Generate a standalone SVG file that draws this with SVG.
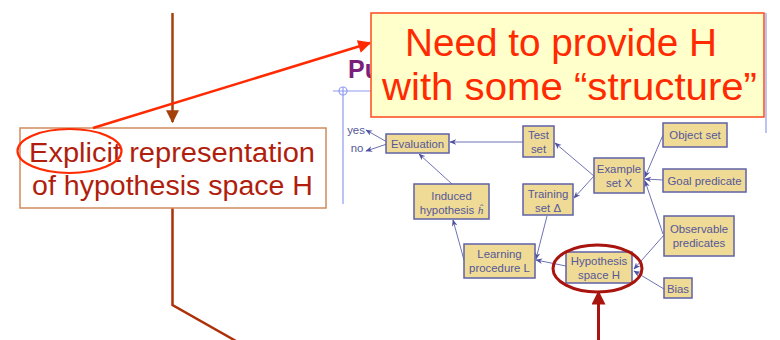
<svg xmlns="http://www.w3.org/2000/svg" width="780" height="340" viewBox="0 0 780 340">
  <style>
    .box { fill: #efdb95; stroke: #5f62a6; stroke-width: 1.5; }
    .lbl { font-family: "Liberation Sans", Arial, sans-serif; font-size: 11.4px; fill: #55579a; text-anchor: middle; }
    .edge { stroke: #6f72b4; stroke-width: 1; fill: none; marker-end: url(#sm); }
    .slide { stroke: #8f9cf0; stroke-width: 1.2; fill: none; }
  </style>
  <defs>
    <marker id="sm" viewBox="0 0 10 10" refX="9" refY="5" markerWidth="7" markerHeight="7" markerUnits="userSpaceOnUse" orient="auto">
      <path d="M0,1 L10,5 L0,9 L3,5 Z" fill="#4f52a0"/>
    </marker>
    <marker id="redhead" viewBox="0 0 10 10" refX="9" refY="5" markerWidth="16" markerHeight="13" markerUnits="userSpaceOnUse" orient="auto">
      <path d="M0,0 L10,5 L0,10 Z" fill="#ff2a00"/>
    </marker>
    <marker id="brownhead" viewBox="0 0 10 10" refX="9" refY="5" markerWidth="14" markerHeight="13" markerUnits="userSpaceOnUse" orient="auto">
      <path d="M0,0 L10,5 L0,10 Z" fill="#a4400c"/>
    </marker>
    <marker id="darkhead" viewBox="0 0 10 10" refX="9" refY="5" markerWidth="16" markerHeight="14" markerUnits="userSpaceOnUse" orient="auto">
      <path d="M0,0 L10,5 L0,10 Z" fill="#a8140e"/>
    </marker>
  </defs>

  <rect width="780" height="340" fill="#ffffff"/>

  <!-- slide background: title fragment and guide lines -->
  <g id="slide-bg">
    <text x="348" y="78" font-family="Liberation Sans, Arial, sans-serif" font-size="25" font-weight="bold" fill="#7a1f7c">Pu</text>
    <line class="slide" x1="333" y1="91" x2="400" y2="91"/>
    <circle class="slide" cx="343" cy="91" r="4"/>
    <line class="slide" x1="343" y1="87" x2="343" y2="204"/>
    <line class="slide" x1="766" y1="13" x2="766" y2="133"/>
  </g>

  <!-- connectors -->
  <g id="connectors">
    <line class="edge" x1="387" y1="142" x2="366" y2="130"/>
    <line class="edge" x1="387" y1="144" x2="366" y2="151"/>
    <line class="edge" x1="523" y1="142" x2="450" y2="142"/>
    <line class="edge" x1="594" y1="176" x2="555" y2="143"/>
    <line class="edge" x1="594" y1="176" x2="574" y2="198"/>
    <line class="edge" x1="663" y1="135" x2="645" y2="177"/>
    <line class="edge" x1="663" y1="180" x2="645" y2="179"/>
    <line class="edge" x1="663" y1="234" x2="645" y2="181"/>
    <line class="edge" x1="664" y1="235" x2="634" y2="269"/>
    <line class="edge" x1="664" y1="289" x2="634" y2="271"/>
    <line class="edge" x1="566" y1="266" x2="536" y2="260"/>
    <line class="edge" x1="547" y1="216" x2="536" y2="259"/>
    <line class="edge" x1="464" y1="260" x2="453" y2="220"/>
    <line class="edge" x1="452" y1="184" x2="419" y2="154"/>
  </g>

  <!-- nodes of the learning diagram -->
  <g id="evaluation">
    <rect class="box" x="386" y="134" width="63" height="19"/>
    <text class="lbl" x="417.5" y="148">Evaluation</text>
  </g>
  <g id="yes-no">
    <text class="lbl" x="356" y="134">yes</text>
    <text class="lbl" x="357" y="152">no</text>
  </g>
  <g id="test-set">
    <rect class="box" x="523" y="126" width="31" height="31"/>
    <text class="lbl" x="538.5" y="139">Test</text>
    <text class="lbl" x="538.5" y="153">set</text>
  </g>
  <g id="example-set">
    <rect class="box" x="594" y="158" width="50" height="35"/>
    <text class="lbl" x="619" y="173">Example</text>
    <text class="lbl" x="619" y="187">set X</text>
  </g>
  <g id="object-set">
    <rect class="box" x="663" y="123" width="64" height="24"/>
    <text class="lbl" x="695" y="139">Object set</text>
  </g>
  <g id="goal-predicate">
    <rect class="box" x="663" y="169" width="83" height="23"/>
    <text class="lbl" x="704.5" y="185">Goal predicate</text>
  </g>
  <g id="training-set">
    <rect class="box" x="523" y="184" width="50" height="31"/>
    <text class="lbl" x="548" y="198">Training</text>
    <text class="lbl" x="548" y="212">set Δ</text>
  </g>
  <g id="induced-hypothesis">
    <rect class="box" x="414" y="184" width="75" height="35"/>
    <text class="lbl" x="451.5" y="200">Induced</text>
    <text class="lbl" x="451.5" y="214">hypothesis <tspan font-family="Liberation Serif, serif" font-style="italic">ĥ</tspan></text>
  </g>
  <g id="learning-procedure">
    <rect class="box" x="464" y="244" width="71" height="34"/>
    <text class="lbl" x="499.5" y="258">Learning</text>
    <text class="lbl" x="499.5" y="272">procedure L</text>
  </g>
  <g id="hypothesis-space">
    <rect class="box" x="566" y="252" width="66" height="31"/>
    <text class="lbl" x="599" y="265">Hypothesis</text>
    <text class="lbl" x="599" y="279">space H</text>
  </g>
  <g id="observable-predicates">
    <rect class="box" x="664" y="216" width="70" height="40"/>
    <text class="lbl" x="699" y="233">Observable</text>
    <text class="lbl" x="699" y="247">predicates</text>
  </g>
  <g id="bias">
    <rect class="box" x="664" y="278" width="28" height="20"/>
    <text class="lbl" x="678" y="293">Bias</text>
  </g>

  <!-- annotation overlay -->
  <g id="explicit-note">
    <line x1="172.5" y1="13" x2="172.5" y2="122" stroke="#a4400c" stroke-width="2.5" marker-end="url(#brownhead)"/>
    <polyline points="172.5,208 172.5,305 236,341" fill="none" stroke="#ac3008" stroke-width="2.5"/>
    <rect x="20" y="128" width="306" height="80" fill="#ffffff" stroke="#d08a5c" stroke-width="1.5"/>
    <text x="29" y="162" font-family="Liberation Sans, Arial, sans-serif" font-size="27" fill="#b01e0e" textLength="286" lengthAdjust="spacingAndGlyphs">Explicit representation</text>
    <text x="32" y="195" font-family="Liberation Sans, Arial, sans-serif" font-size="27" fill="#b01e0e" textLength="281" lengthAdjust="spacingAndGlyphs">of hypothesis space H</text>
    <ellipse cx="69.5" cy="151" rx="52" ry="22" fill="none" stroke="#ff2a00" stroke-width="2.2"/>
  </g>

  <g id="structure-note">
    <line x1="93" y1="128" x2="370" y2="43" stroke="#ff2a00" stroke-width="2.5" marker-end="url(#redhead)"/>
    <rect x="371" y="13" width="393" height="104" fill="#ffffcc" stroke="#ff4a1a" stroke-width="1.5"/>
    <text x="405" y="56" font-family="Liberation Sans, Arial, sans-serif" font-size="38" fill="#ff2a00" textLength="312" lengthAdjust="spacingAndGlyphs">Need to provide H</text>
    <text x="382" y="100" font-family="Liberation Sans, Arial, sans-serif" font-size="38" fill="#ff2a00" textLength="375" lengthAdjust="spacingAndGlyphs">with some “structure”</text>
  </g>

  <g id="hypothesis-highlight">
    <ellipse cx="597.5" cy="268.5" rx="44.5" ry="23.5" fill="none" stroke="#a8140e" stroke-width="3"/>
    <line x1="598.5" y1="341" x2="598.5" y2="292" stroke="#a8140e" stroke-width="3" marker-end="url(#darkhead)"/>
  </g>
</svg>
